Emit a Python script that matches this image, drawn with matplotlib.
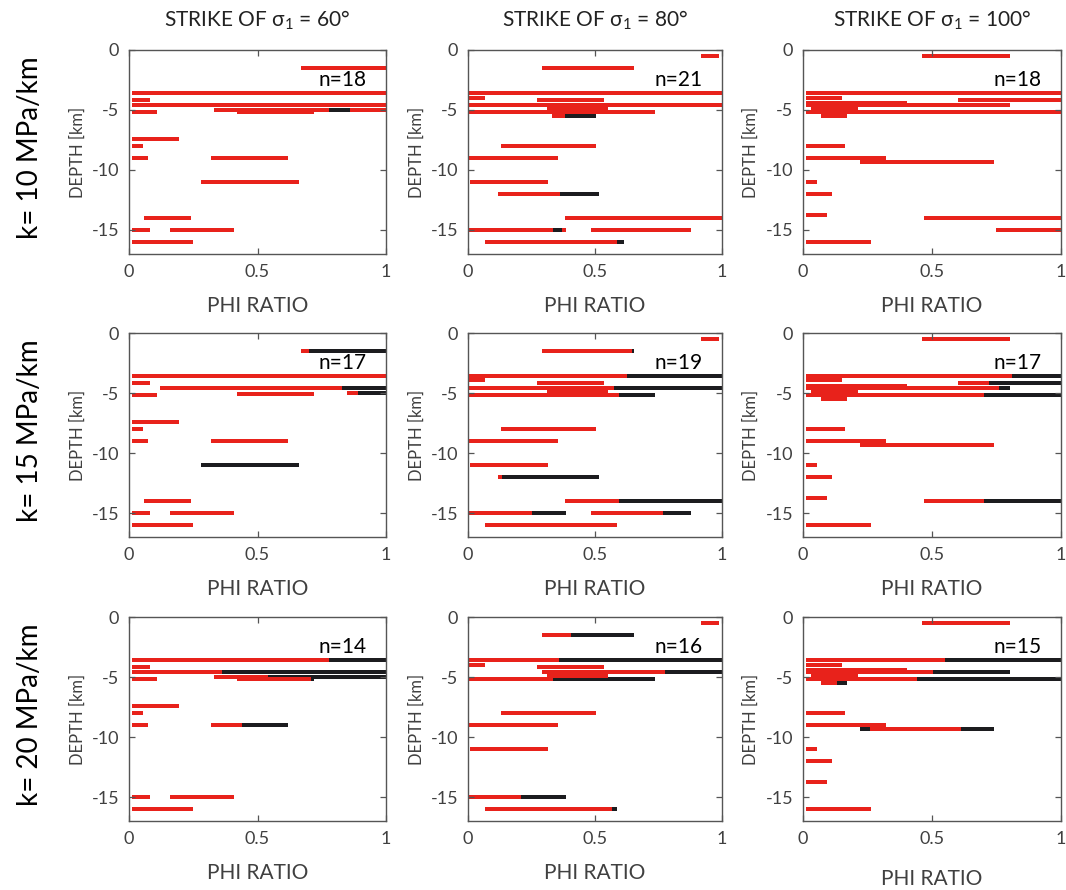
import matplotlib
matplotlib.use('Agg')
import matplotlib.pyplot as plt

plt.rcParams['font.family'] = ['Lato', 'DejaVu Sans']
plt.rcParams['mathtext.fontset'] = 'custom'
plt.rcParams['mathtext.rm'] = 'Lato'
plt.rcParams['mathtext.it'] = 'Lato'
plt.rcParams['mathtext.bf'] = 'Lato:bold'

# ---------------- data ----------------
strikes = [60, 80, 100]
gradients = [10, 15, 20]
counts = [[18, 21, 18], [17, 19, 17], [14, 16, 15]]
x_ticks = [0, 0.5, 1]
x_tick_labels = ['0', '0.5', '1']
y_ticks = [0, -5, -10, -15]
y_tick_labels = ['0', '-5', '-10', '-15']

# segments: (depth [km], phi start, phi end, colour code)  r = red, k = black
seg_k10_s60 = [
    (-1.5, 0.67, 1.0, 'r'), (-3.55, 0.013, 1.0, 'r'), (-4.15, 0.013, 0.082, 'r'),
    (-4.55, 0.013, 1.0, 'r'), (-5.15, 0.42, 0.72, 'r'),
    (-4.97, 0.33, 0.78, 'r'), (-4.97, 0.78, 0.86, 'k'), (-4.97, 0.86, 1.0, 'r'),
    (-5.15, 0.013, 0.11, 'r'), (-7.45, 0.013, 0.195, 'r'), (-8.0, 0.013, 0.055, 'r'),
    (-9.0, 0.013, 0.074, 'r'), (-9.0, 0.32, 0.62, 'r'), (-11.0, 0.28, 0.66, 'r'),
    (-14.0, 0.058, 0.24, 'r'), (-15.0, 0.013, 0.082, 'r'), (-15.0, 0.16, 0.41, 'r'),
    (-16.0, 0.013, 0.25, 'r'),
]
seg_k10_s80 = [
    (-0.5, 0.917, 0.987, 'r'), (-1.5, 0.29, 0.655, 'r'), (-3.55, 0.005, 1.0, 'r'),
    (-4.0, 0.005, 0.068, 'r'), (-4.15, 0.27, 0.534, 'r'), (-4.55, 0.005, 1.0, 'r'),
    (-4.95, 0.31, 0.553, 'r'), (-5.15, 0.005, 0.735, 'r'),
    (-5.5, 0.33, 0.38, 'r'), (-5.5, 0.38, 0.503, 'k'),
    (-8.0, 0.128, 0.503, 'r'), (-9.0, 0.005, 0.353, 'r'), (-11.0, 0.009, 0.313, 'r'),
    (-12.0, 0.12, 0.364, 'r'), (-12.0, 0.364, 0.514, 'k'), (-14.0, 0.38, 1.0, 'r'),
    (-15.0, 0.005, 0.333, 'r'), (-15.0, 0.333, 0.372, 'k'), (-15.0, 0.372, 0.384, 'r'),
    (-15.0, 0.483, 0.878, 'r'),
    (-16.0, 0.068, 0.585, 'r'), (-16.0, 0.585, 0.613, 'k'),
]
seg_k10_s100 = [
    (-0.5, 0.461, 0.803, 'r'), (-3.55, 0.01, 1.0, 'r'), (-4.0, 0.01, 0.153, 'r'),
    (-4.15, 0.60, 1.0, 'r'), (-4.4, 0.01, 0.403, 'r'), (-4.55, 0.01, 0.803, 'r'),
    (-4.9, 0.03, 0.212, 'r'), (-5.15, 0.01, 1.0, 'r'), (-5.5, 0.069, 0.17, 'r'),
    (-8.0, 0.01, 0.162, 'r'), (-9.0, 0.01, 0.32, 'r'), (-9.3, 0.22, 0.741, 'r'),
    (-11.0, 0.01, 0.053, 'r'), (-12.0, 0.01, 0.111, 'r'), (-13.75, 0.01, 0.092, 'r'),
    (-14.0, 0.469, 1.0, 'r'), (-15.0, 0.749, 1.0, 'r'), (-16.0, 0.01, 0.263, 'r'),
]
seg_k15_s60 = [
    (-1.5, 0.67, 0.70, 'r'), (-1.5, 0.70, 1.0, 'k'), (-3.55, 0.013, 1.0, 'r'),
    (-4.15, 0.013, 0.082, 'r'), (-4.6, 0.12, 0.83, 'r'), (-4.6, 0.83, 1.0, 'k'),
    (-5.0, 0.85, 0.89, 'r'), (-5.0, 0.89, 1.0, 'k'), (-5.05, 0.42, 0.72, 'r'),
    (-5.2, 0.013, 0.11, 'r'), (-7.45, 0.013, 0.195, 'r'), (-8.0, 0.013, 0.055, 'r'),
    (-9.0, 0.013, 0.074, 'r'), (-9.0, 0.32, 0.62, 'r'), (-11.0, 0.28, 0.66, 'k'),
    (-14.0, 0.058, 0.24, 'r'), (-15.0, 0.013, 0.082, 'r'), (-15.0, 0.16, 0.41, 'r'),
    (-16.0, 0.013, 0.25, 'r'),
]
seg_k15_s80 = [
    (-0.5, 0.917, 0.987, 'r'), (-1.5, 0.29, 0.645, 'r'), (-1.5, 0.645, 0.655, 'k'),
    (-3.55, 0.005, 0.625, 'r'), (-3.55, 0.625, 1.0, 'k'), (-3.9, 0.005, 0.068, 'r'),
    (-4.15, 0.27, 0.534, 'r'), (-4.55, 0.005, 0.574, 'r'), (-4.55, 0.574, 1.0, 'k'),
    (-4.9, 0.31, 0.553, 'r'), (-5.15, 0.005, 0.593, 'r'), (-5.15, 0.593, 0.735, 'k'),
    (-8.0, 0.128, 0.503, 'r'), (-9.0, 0.005, 0.353, 'r'), (-11.0, 0.009, 0.313, 'r'),
    (-12.0, 0.12, 0.132, 'r'), (-12.0, 0.132, 0.514, 'k'),
    (-14.0, 0.38, 0.593, 'r'), (-14.0, 0.593, 1.0, 'k'),
    (-15.0, 0.005, 0.25, 'r'), (-15.0, 0.25, 0.384, 'k'),
    (-15.0, 0.483, 0.767, 'r'), (-15.0, 0.767, 0.878, 'k'),
    (-16.0, 0.068, 0.585, 'r'),
]
seg_k15_s100 = [
    (-0.5, 0.461, 0.803, 'r'), (-3.55, 0.01, 0.811, 'r'), (-3.55, 0.811, 1.0, 'k'),
    (-3.9, 0.01, 0.153, 'r'), (-4.15, 0.60, 0.722, 'r'), (-4.15, 0.722, 1.0, 'k'),
    (-4.45, 0.01, 0.403, 'r'), (-4.6, 0.01, 0.76, 'r'), (-4.6, 0.76, 0.803, 'k'),
    (-4.9, 0.03, 0.212, 'r'), (-5.15, 0.01, 0.70, 'r'), (-5.15, 0.70, 1.0, 'k'),
    (-5.5, 0.069, 0.17, 'r'), (-8.0, 0.01, 0.162, 'r'), (-9.0, 0.01, 0.32, 'r'),
    (-9.3, 0.22, 0.741, 'r'), (-11.0, 0.01, 0.053, 'r'), (-12.0, 0.01, 0.111, 'r'),
    (-13.75, 0.01, 0.092, 'r'), (-14.0, 0.469, 0.70, 'r'), (-14.0, 0.70, 1.0, 'k'),
    (-16.0, 0.01, 0.263, 'r'),
]
seg_k20_s60 = [
    (-3.55, 0.013, 0.78, 'r'), (-3.55, 0.78, 1.0, 'k'), (-4.15, 0.013, 0.082, 'r'),
    (-4.55, 0.013, 0.362, 'r'), (-4.55, 0.362, 1.0, 'k'),
    (-4.97, 0.33, 0.54, 'r'), (-4.97, 0.54, 1.0, 'k'),
    (-5.15, 0.42, 0.71, 'r'), (-5.15, 0.71, 0.72, 'k'), (-5.15, 0.013, 0.11, 'r'),
    (-7.45, 0.013, 0.195, 'r'), (-8.0, 0.013, 0.055, 'r'), (-9.0, 0.013, 0.074, 'r'),
    (-9.0, 0.32, 0.44, 'r'), (-9.0, 0.44, 0.62, 'k'),
    (-15.0, 0.013, 0.082, 'r'), (-15.0, 0.16, 0.41, 'r'), (-16.0, 0.013, 0.25, 'r'),
]
seg_k20_s80 = [
    (-0.5, 0.917, 0.987, 'r'), (-1.5, 0.29, 0.404, 'r'), (-1.5, 0.404, 0.655, 'k'),
    (-3.55, 0.005, 0.36, 'r'), (-3.55, 0.36, 1.0, 'k'), (-4.0, 0.005, 0.068, 'r'),
    (-4.15, 0.27, 0.534, 'r'), (-4.55, 0.29, 0.775, 'r'), (-4.55, 0.775, 1.0, 'k'),
    (-5.15, 0.005, 0.333, 'r'), (-5.15, 0.333, 0.735, 'k'), (-4.95, 0.31, 0.553, 'r'),
    (-8.0, 0.128, 0.503, 'r'), (-9.0, 0.005, 0.353, 'r'), (-11.0, 0.009, 0.313, 'r'),
    (-15.0, 0.005, 0.21, 'r'), (-15.0, 0.21, 0.384, 'k'),
    (-16.0, 0.068, 0.566, 'r'), (-16.0, 0.566, 0.585, 'k'),
]
seg_k20_s100 = [
    (-0.5, 0.461, 0.803, 'r'), (-3.55, 0.01, 0.55, 'r'), (-3.55, 0.55, 1.0, 'k'),
    (-4.0, 0.01, 0.153, 'r'), (-4.4, 0.01, 0.403, 'r'),
    (-4.55, 0.01, 0.504, 'r'), (-4.55, 0.504, 0.803, 'k'), (-4.9, 0.03, 0.212, 'r'),
    (-5.15, 0.01, 0.44, 'r'), (-5.15, 0.44, 1.0, 'k'),
    (-5.5, 0.069, 0.131, 'r'), (-5.5, 0.131, 0.17, 'k'),
    (-8.0, 0.01, 0.162, 'r'), (-9.0, 0.01, 0.32, 'r'),
    (-9.3, 0.22, 0.259, 'k'), (-9.3, 0.259, 0.613, 'r'), (-9.3, 0.613, 0.741, 'k'),
    (-11.0, 0.01, 0.053, 'r'), (-12.0, 0.01, 0.111, 'r'), (-13.75, 0.01, 0.092, 'r'),
    (-16.0, 0.01, 0.263, 'r'),
]

panels = [
    [seg_k10_s60, seg_k10_s80, seg_k10_s100],
    [seg_k15_s60, seg_k15_s80, seg_k15_s100],
    [seg_k20_s60, seg_k20_s80, seg_k20_s100],
]

# ---------------- styling ----------------
RED = '#e8221b'
BLACK = '#1c1c1f'
GREY = '#404040'
colour_map = {'r': RED, 'k': BLACK}

W, H = 1066, 890
fig = plt.figure(figsize=(W / 100, H / 100), dpi=100)
fig.patch.set_facecolor('white')

col_left = [129, 468, 803]
col_width = [257, 254, 258]
row_top = [50, 333, 617]
ax_h = 204

for r in range(3):
    for c in range(3):
        rect = [col_left[c] / W, 1 - (row_top[r] + ax_h) / H,
                col_width[c] / W, ax_h / H]
        ax = fig.add_axes(rect)
        for depth, x0, x1, code in panels[r][c]:
            ax.barh(depth, x1 - x0, left=x0, height=0.34,
                    color=colour_map[code], linewidth=0)
        ax.set_xlim(0, 1)
        ax.set_ylim(-17, 0)
        ax.set_xticks(x_ticks)
        ax.set_xticklabels(x_tick_labels)
        ax.set_yticks(y_ticks)
        ax.set_yticklabels(y_tick_labels)
        ax.tick_params(direction='in', top=True, right=True, length=4,
                       width=0.9, color='#555555', labelcolor=GREY,
                       labelsize=13, pad=7)
        for sp in ax.spines.values():
            sp.set_color('#555555')
            sp.set_linewidth(1.0)
        ax.set_ylabel('DEPTH [km]', fontsize=12, color=GREY)
        ax.yaxis.set_label_coords(-0.17, 0.5)
        ax.set_xlabel('PHI RATIO', fontsize=15, color=GREY, va='top')
        ax.xaxis.set_label_coords(0.5, -0.205 if not (r == 2 and c == 2) else -0.235)
        ax.text(0.83, -2.5, 'n=%d' % counts[r][c], fontsize=15, color='black',
                ha='center', va='center')
        if r == 0:
            ax.set_title('STRIKE OF σ$_1$ = %d°' % strikes[c], fontsize=15,
                         color='#222222', pad=17)
    fig.text(30 / W, 1 - (row_top[r] + ax_h / 2 - 4) / H,
             'k= %d MPa/km' % gradients[r], rotation=90, fontsize=20,
             color='black', ha='center', va='center')

fig.savefig('out.png', dpi=100, facecolor='white')
